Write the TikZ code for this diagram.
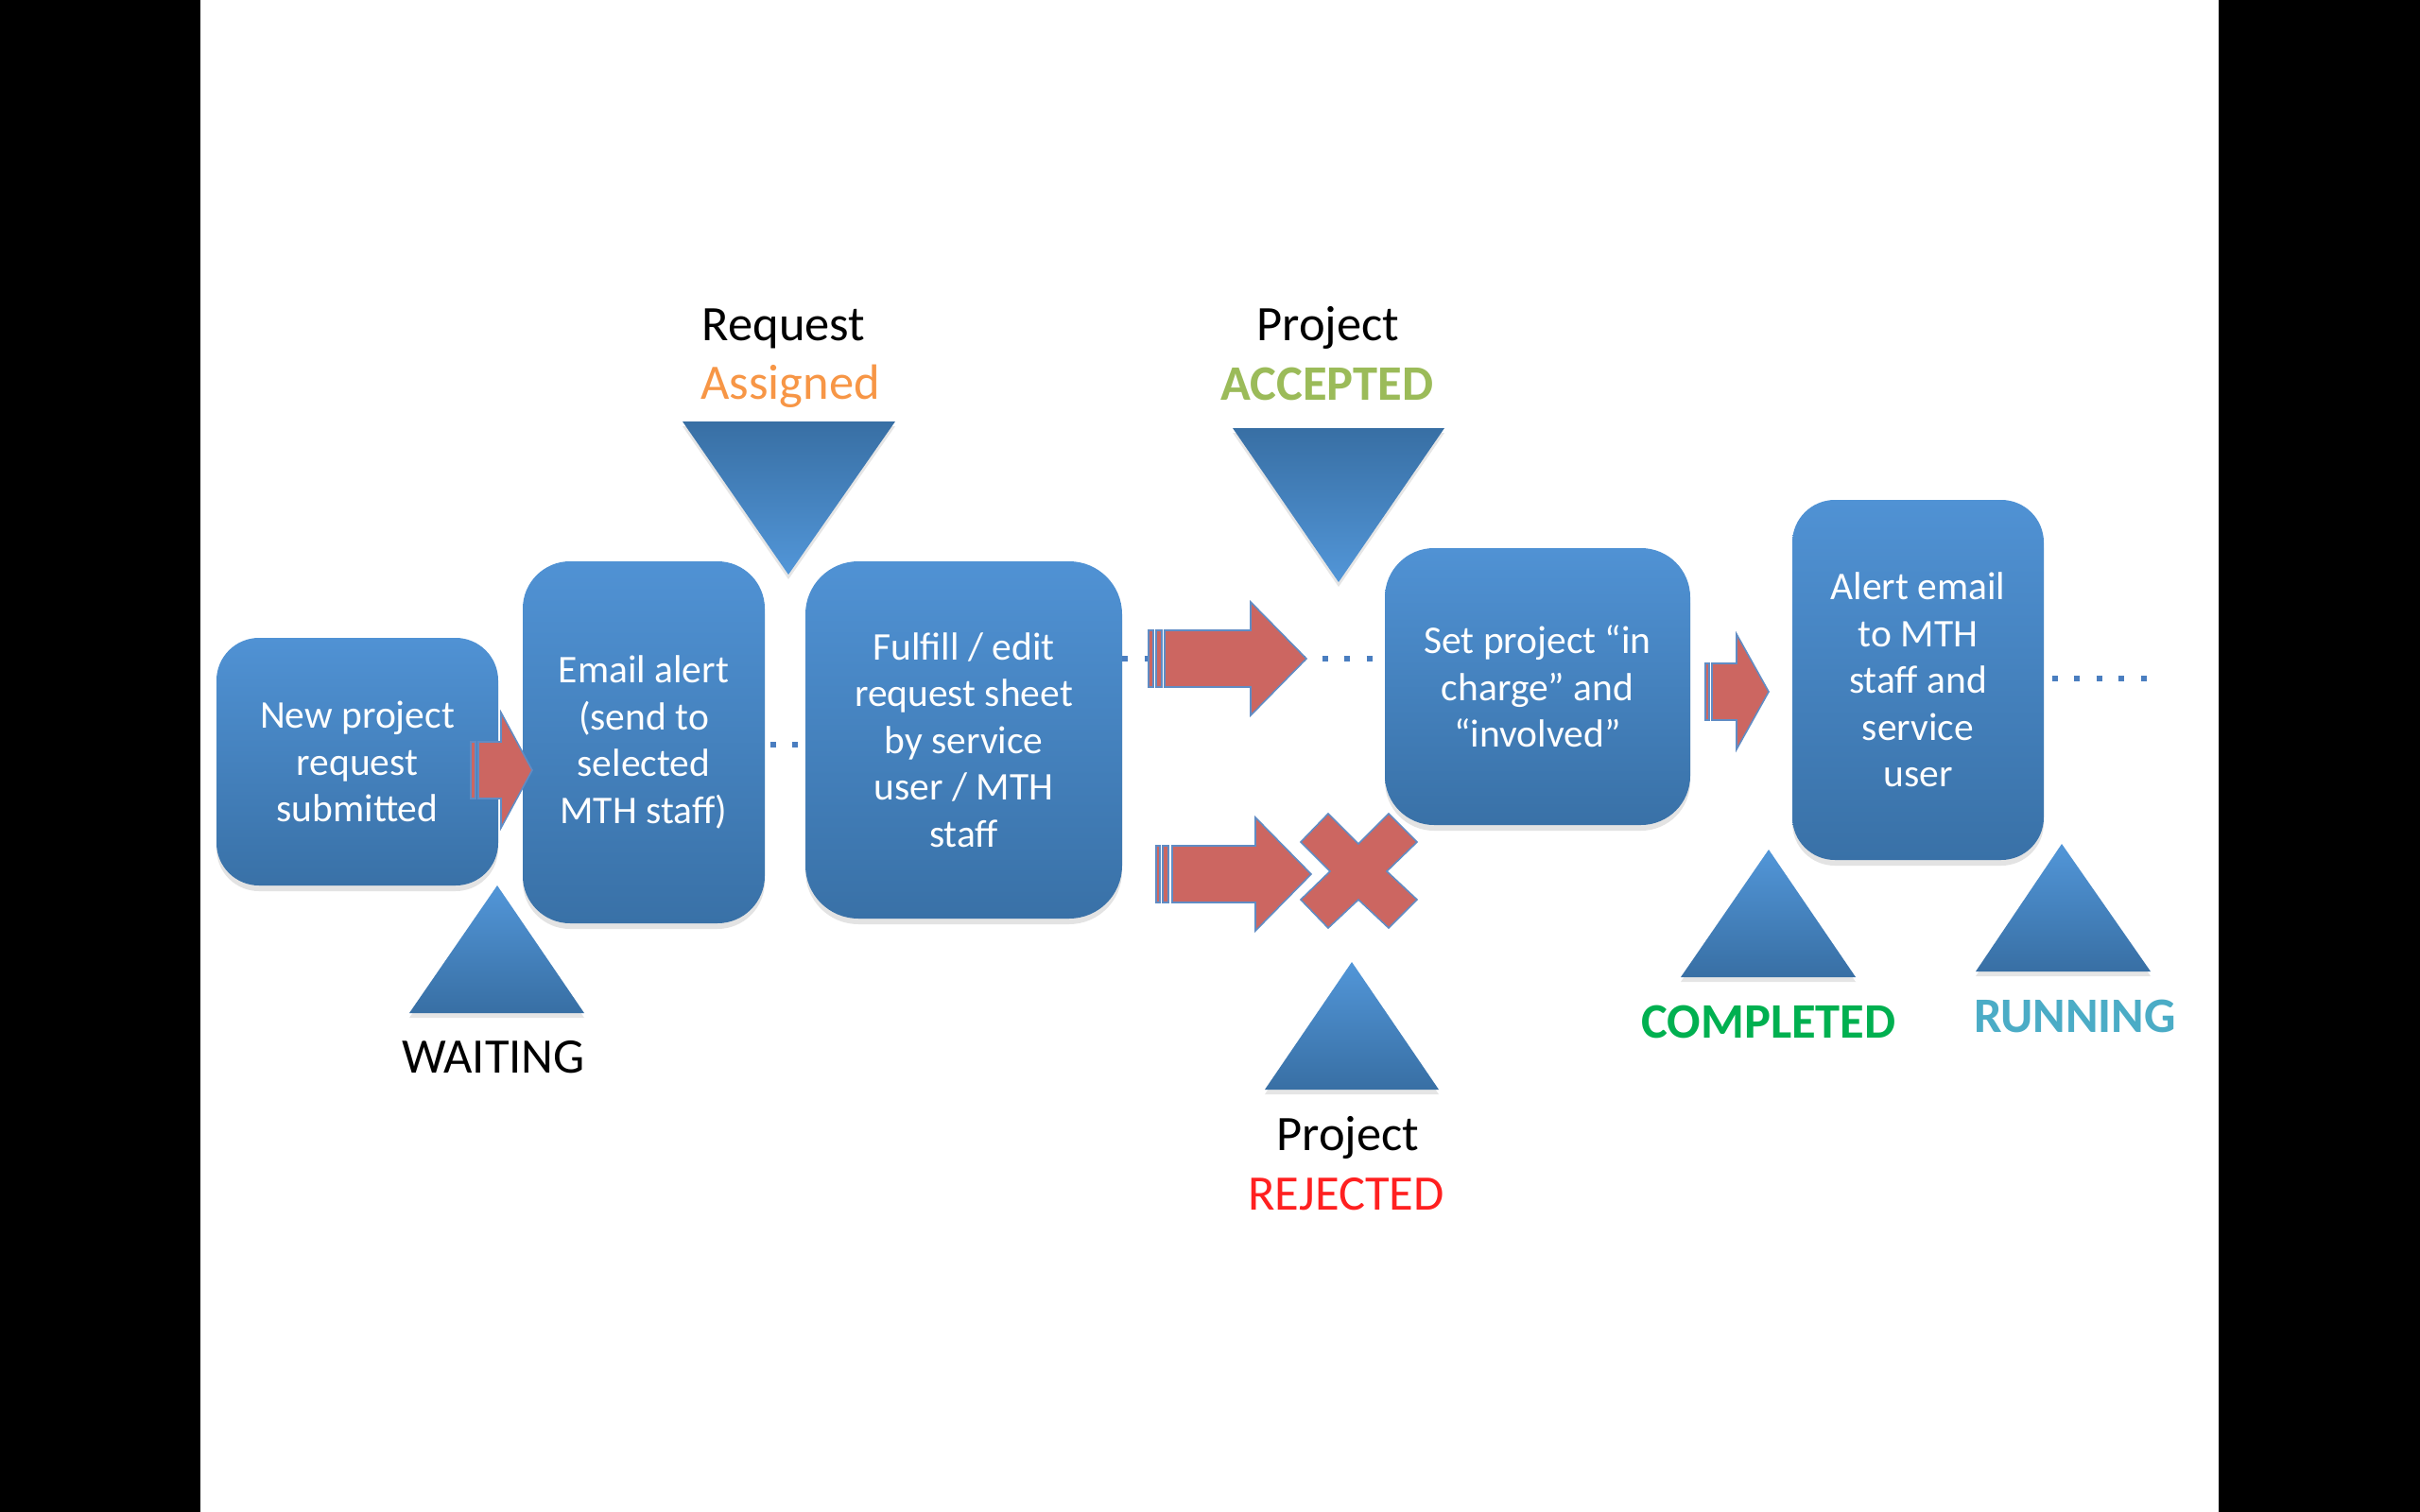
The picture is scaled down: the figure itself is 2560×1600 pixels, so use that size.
\documentclass[tikz,border=0pt]{standalone}
\usepackage{fontspec}
\setmainfont{Carlito}
\usetikzlibrary{shadows}
\definecolor{btop}{RGB}{80,146,212}
\definecolor{bbot}{RGB}{57,113,167}
\definecolor{ttop}{RGB}{82,150,216}
\definecolor{tbot}{RGB}{56,111,164}
\definecolor{rfill}{RGB}{204,102,97}
\definecolor{rline}{RGB}{96,140,196}
\definecolor{dotc}{RGB}{74,126,192}
\definecolor{cassign}{RGB}{247,150,70}
\definecolor{caccept}{RGB}{155,187,89}
\definecolor{creject}{RGB}{255,32,32}
\definecolor{ccomplete}{RGB}{0,176,80}
\definecolor{crun}{RGB}{75,172,198}
\newcommand{\shaftarrow}[6]{% tail, head base, tip, cy, shaft half, head half
  \path[redshape] (#1,#4-#5) -- (#2,#4-#5) -- (#2,#4-#6) -- (#3,#4) -- (#2,#4+#6) -- (#2,#4+#5) -- (#1,#4+#5) -- cycle;}
\begin{document}
\begin{tikzpicture}[x=1pt,y=-1pt,
  box/.style={top color=btop, bottom color=bbot, draw=none, text=white, align=center,
    font=\fontsize{41.5}{49.5}\selectfont, inner sep=0pt,
    drop shadow={shadow xshift=0pt, shadow yshift=-6pt, opacity=0.22}},
  triup/.style={top color=ttop, bottom color=tbot,
    drop shadow={shadow xshift=0pt, shadow yshift=-5pt, opacity=0.2}},
  tridown/.style={top color=tbot, bottom color=ttop,
    drop shadow={shadow xshift=0pt, shadow yshift=-5pt, opacity=0.2}},
  redshape/.style={fill=rfill, draw=rline, line width=1.6pt, line join=miter},
  dotline/.style={draw=dotc, line width=6pt, dash pattern=on 6pt off 17.5pt},
  lbl/.style={anchor=base, font=\fontsize{52.5}{60}\selectfont, inner sep=0pt},
  blbl/.style={lbl, font=\fontsize{52.5}{60}\selectfont\bfseries}]
\useasboundingbox (0,0) rectangle (2560,1600);
\fill[black] (0,0) rectangle (2560,1600);
\fill[white] (212,0) rectangle (2347,1600);

% boxes
\node[box, rounded corners=45pt, minimum width=298pt, minimum height=262pt] (b1) at (378,806) {New project\\request\\submitted};
\node[box, rounded corners=50pt, minimum width=256pt, minimum height=383pt] (b2) at (681,785.5) {Email alert\\(send to\\selected\\MTH staff)};
\node[box, rounded corners=56pt, minimum width=335pt, minimum height=378pt] (b3) at (1019.5,783) {Fulfill / edit\\request sheet\\by service\\user / MTH\\staff};
\node[box, rounded corners=52pt, minimum width=323pt, minimum height=293pt] (b4) at (1626.5,726.5) {Set project “in\\charge” and\\“involved”};
\node[box, rounded corners=45pt, minimum width=266pt, minimum height=381pt] (b5) at (2029,719.5) {Alert email\\to MTH\\staff and\\service\\user};

% dotted connectors
\coordinate (ya) at (0,788);
\coordinate (yb) at (0,697);
\coordinate (yc) at (0,718);
\coordinate (runEnd) at (2272,718);
\draw[dotline, dash phase=18pt] (b2.east |- ya) -- (b3.west |- ya);
\draw[dotline] (b3.east |- yb) -- (b4.west |- yb);
\draw[dotline, dash phase=15pt] (b5.east |- yc) -- (runEnd);

% red arrows
\path[redshape] (498,785) rectangle (503,845);
\shaftarrow{506}{530}{563}{815}{30}{61}
\path[redshape] (1215,667) rectangle (1220,727);
\path[redshape] (1223,667) rectangle (1229,727);
\shaftarrow{1232}{1323}{1382}{697}{30}{60}
\path[redshape] (1223,895) rectangle (1227,955);
\path[redshape] (1230,895) rectangle (1236,955);
\shaftarrow{1240}{1328}{1387}{925}{30}{60}
\path[redshape] (1804,702) rectangle (1808,762);
\shaftarrow{1811}{1837}{1871}{732}{30}{61}
\begin{scope}[shift={(1437,922)}]
\path[redshape] (-32,-61) -- (0,-29) -- (32,-61) -- (62,-31) -- (30,0) -- (62,30) -- (32,60) -- (0,30) -- (-32,60) -- (-61,30) -- (-30,0) -- (-61,-31) -- cycle;
\end{scope}

% triangles
\path[tridown] (722,446) -- (947,446) -- (834,608) -- cycle;
\path[tridown] (1304,453) -- (1528,453) -- (1416,616) -- cycle;
\path[triup] (526,937) -- (618,1072) -- (433,1072) -- cycle;
\path[triup] (1430,1018) -- (1522,1153) -- (1338,1153) -- cycle;
\path[triup] (1871,899) -- (1963,1034) -- (1778,1034) -- cycle;
\path[triup] (2181,893) -- (2275,1028) -- (2090,1028) -- cycle;

% labels
\node[lbl] (lreq) at (829,360) {Request};
\node[lbl, text=cassign] (lass) at (836,422) {Assigned};
\node[lbl] (lproj) at (1405,360) {Project};
\node[blbl, text=caccept] (lacc) at (1404,423) {ACCEPTED};
\node[lbl] (lwait) at (522,1135) {WAITING};
\node[lbl] (lproj2) at (1426,1217) {Project};
\node[lbl, text=creject] (lrej) at (1424,1280) {REJECTED};
\node[blbl, text=ccomplete] (lcomp) at (1871,1098) {COMPLETED};
\node[blbl, text=crun] (lrun) at (2195,1092) {RUNNING};
\end{tikzpicture}
\end{document}
